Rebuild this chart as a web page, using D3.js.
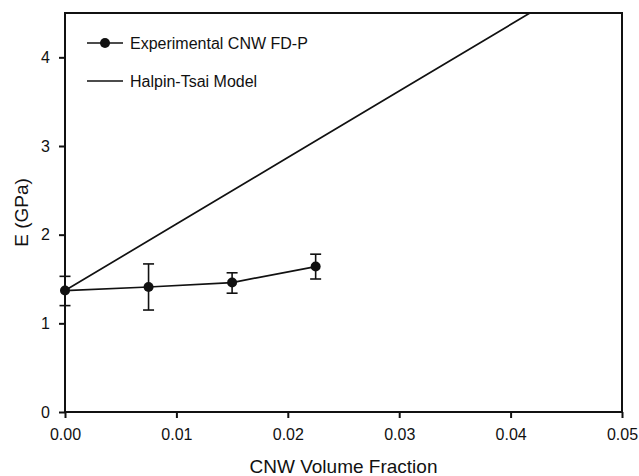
<!DOCTYPE html>
<html>
<head>
<meta charset="utf-8">
<script src="https://cdn.jsdelivr.net/npm/d3@7"></script>
<style>
  body { margin: 0; background: #fff; }
  svg { display: block; }
</style>
</head>
<body>
<div class="chart"></div>
<script>
// experimental data
const fractions = [0.0, 0.0075, 0.015, 0.0225];
const modulus = [1.37, 1.41, 1.46, 1.64];
const errUpper = [1.53, 1.67, 1.57, 1.78];
const errLower = [1.20, 1.15, 1.34, 1.50];

// Halpin-Tsai model
const modelX = [0.0, 0.01, 0.02, 0.03, 0.04, 0.05];
const modelY = [1.37, 2.12, 2.87, 3.62, 4.37, 5.12];

const xTicks = [0, 0.01, 0.02, 0.03, 0.04, 0.05];
const yTicks = [0, 1, 2, 3, 4];

const chartWidth = 639;
const chartHeight = 476;
const margin = { left: 65, right: 17, top: 13, bottom: 64 };
const width = chartWidth - margin.left - margin.right;
const height = chartHeight - margin.top - margin.bottom;

const ink = '#111';
const font = 'Liberation Sans, Arial, sans-serif';

const svg = d3.select('.chart')
  .append('svg')
  .attr('width', chartWidth)
  .attr('height', chartHeight)
  .append('g')
  .attr('transform', `translate(${margin.left}, ${margin.top})`);

const xScale = d3.scaleLinear().domain([0, 0.05]).range([0, width]);
const yScale = d3.scaleLinear().domain([0, 4.5]).range([height, 0]);

svg.append('defs').append('clipPath')
  .attr('id', 'plot-clip')
  .append('rect')
  .attr('width', width)
  .attr('height', height);

// model line
const modelData = modelX.map((x, i) => ({ x, y: modelY[i] }));
svg.append('path')
  .datum(modelData)
  .attr('clip-path', 'url(#plot-clip)')
  .attr('fill', 'none')
  .attr('stroke', ink)
  .attr('stroke-width', 1.7)
  .attr('d', d3.line().x(d => xScale(d.x)).y(d => yScale(d.y)));

// experimental
const expData = fractions.map((x, i) => ({
  x, y: modulus[i], hi: errUpper[i], lo: errLower[i]
}));

svg.append('path')
  .datum(expData)
  .attr('fill', 'none')
  .attr('stroke', ink)
  .attr('stroke-width', 1.7)
  .attr('d', d3.line().x(d => xScale(d.x)).y(d => yScale(d.y)));

const capHalf = 5.5;
const errG = svg.append('g')
  .attr('stroke', ink)
  .attr('stroke-width', 1.6);
errG.selectAll('.stem')
  .data(expData)
  .enter()
  .append('line')
  .attr('x1', d => xScale(d.x))
  .attr('x2', d => xScale(d.x))
  .attr('y1', d => yScale(d.hi))
  .attr('y2', d => yScale(d.lo));
errG.selectAll('.cap-hi')
  .data(expData)
  .enter()
  .append('line')
  .attr('x1', d => xScale(d.x) - capHalf)
  .attr('x2', d => xScale(d.x) + capHalf)
  .attr('y1', d => yScale(d.hi))
  .attr('y2', d => yScale(d.hi));
errG.selectAll('.cap-lo')
  .data(expData)
  .enter()
  .append('line')
  .attr('x1', d => xScale(d.x) - capHalf)
  .attr('x2', d => xScale(d.x) + capHalf)
  .attr('y1', d => yScale(d.lo))
  .attr('y2', d => yScale(d.lo));

svg.selectAll('.dot')
  .data(expData)
  .enter()
  .append('circle')
  .attr('cx', d => xScale(d.x))
  .attr('cy', d => yScale(d.y))
  .attr('r', 5)
  .attr('fill', ink);

// frame
svg.append('rect')
  .attr('width', width)
  .attr('height', height)
  .attr('fill', 'none')
  .attr('stroke', ink)
  .attr('stroke-width', 2);

// axes
const xAxis = d3.axisBottom(xScale)
  .tickValues(xTicks)
  .tickFormat(d3.format('.2f'))
  .tickSize(6)
  .tickSizeOuter(0)
  .tickPadding(11);
const xAxisG = svg.append('g')
  .attr('transform', `translate(0, ${height})`)
  .call(xAxis);

const yAxis = d3.axisLeft(yScale)
  .tickValues(yTicks)
  .tickFormat(d3.format('d'))
  .tickSize(6)
  .tickSizeOuter(0)
  .tickPadding(9);
const yAxisG = svg.append('g').call(yAxis);

[xAxisG, yAxisG].forEach(g => {
  g.select('.domain').remove();
  g.selectAll('line').attr('stroke', ink).attr('stroke-width', 2);
  g.selectAll('text')
    .attr('fill', ink)
    .attr('font-family', font)
    .attr('font-size', '16px');
});

// axis titles
svg.append('text')
  .attr('x', width / 2)
  .attr('y', height + 61)
  .attr('text-anchor', 'middle')
  .attr('font-family', font)
  .attr('font-size', '19px')
  .attr('fill', ink)
  .text('CNW Volume Fraction');

svg.append('text')
  .attr('transform', `translate(${-37}, ${height / 2}) rotate(-90)`)
  .attr('text-anchor', 'middle')
  .attr('font-family', font)
  .attr('font-size', '19px')
  .attr('fill', ink)
  .text('E (GPa)');

// legend
const legend = svg.append('g').attr('transform', 'translate(22, 30)');
legend.append('line')
  .attr('x1', 0).attr('x2', 36).attr('y1', 0).attr('y2', 0)
  .attr('stroke', ink).attr('stroke-width', 1.7);
legend.append('circle')
  .attr('cx', 18).attr('cy', 0).attr('r', 5).attr('fill', ink);
legend.append('text')
  .attr('x', 43).attr('y', 0).attr('dy', '0.35em')
  .attr('font-family', font).attr('font-size', '16px').attr('fill', ink)
  .text('Experimental CNW FD-P');
legend.append('line')
  .attr('x1', 0).attr('x2', 36).attr('y1', 38).attr('y2', 38)
  .attr('stroke', ink).attr('stroke-width', 1.7);
legend.append('text')
  .attr('x', 43).attr('y', 38).attr('dy', '0.35em')
  .attr('font-family', font).attr('font-size', '16px').attr('fill', ink)
  .text('Halpin-Tsai Model');
</script>
</body>
</html>
